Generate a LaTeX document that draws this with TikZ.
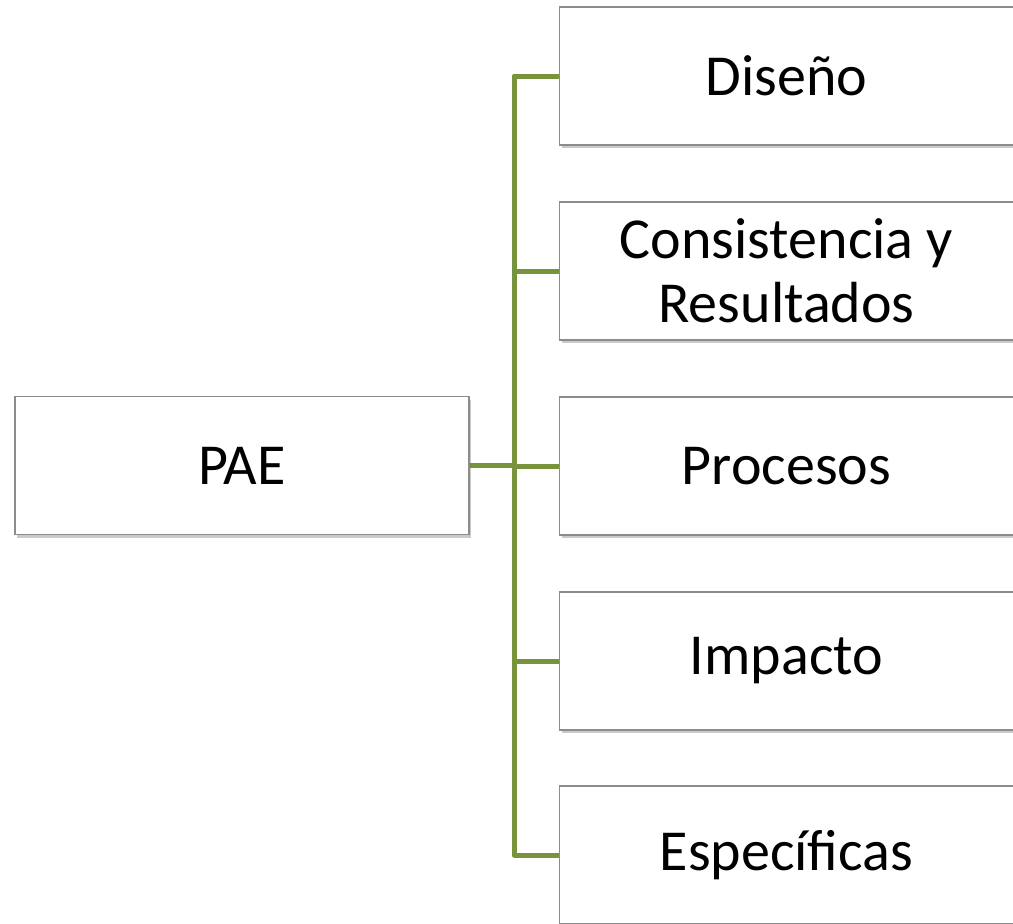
\documentclass[tikz,border=0pt]{standalone}
\usepackage{fontspec}
\setmainfont{Carlito}
\usetikzlibrary{shadows,backgrounds}
\definecolor{boxborder}{HTML}{8C8C8C}
\definecolor{olive}{HTML}{77933C}
\begin{document}
\begin{tikzpicture}[x=1pt,y=1pt,
  box/.style={draw=boxborder, line width=1.6pt, fill=white,
    minimum width=454pt, minimum height=138pt, inner sep=0pt,
    align=center, font=\fontsize{58}{64}\selectfont,
    drop shadow={shadow xshift=2pt, shadow yshift=-3pt, opacity=0.35, fill=black!60}},
  conn/.style={draw=olive, line width=5pt, line join=round, line cap=butt}]
\useasboundingbox (0,0) rectangle (1013,-924);
\node[box] (pae) at (242,-465.5) {PAE};
\node[box] (b1) at (786.5,-76) {Diseño};
\node[box] (b2) at (786.5,-271) {Consistencia y\\Resultados};
\node[box] (b3) at (786.5,-466) {Procesos};
\node[box] (b4) at (786.5,-661) {Impacto};
\node[box] (b5) at (786.5,-855) {Específicas};
\coordinate (j) at (514,-465.5);
\begin{scope}[on background layer]
\draw[conn] (pae.east) -- (j);
\draw[conn] (j) |- (b1.west);
\draw[conn] (j) |- (b2.west);
\draw[conn] (j) |- (b3.west);
\draw[conn] (j) |- (b4.west);
\draw[conn] (j) |- (b5.west);
\end{scope}
\end{tikzpicture}
\end{document}
